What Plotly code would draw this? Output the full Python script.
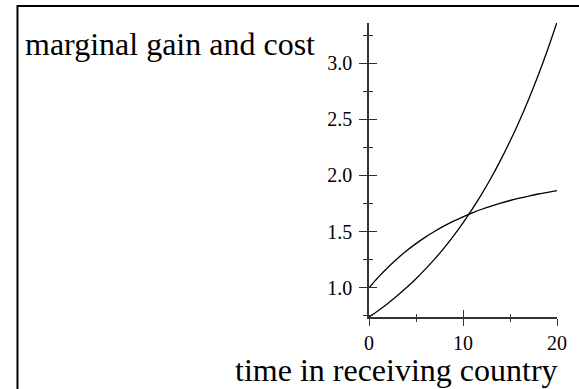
import plotly.graph_objects as go

# Data
t_values = [0, 1, 2, 3, 4, 5, 6, 7, 8, 9, 10, 11, 12, 13, 14, 15, 16, 17, 18, 19, 20]
marginal_gain = [1.000, 1.095, 1.181, 1.259, 1.330, 1.393, 1.451, 1.503, 1.551, 1.593, 1.632,
                 1.667, 1.699, 1.727, 1.753, 1.777, 1.798, 1.817, 1.835, 1.850, 1.865]
marginal_cost = [0.740, 0.798, 0.861, 0.929, 1.002, 1.081, 1.166, 1.257, 1.356, 1.463, 1.578,
                 1.702, 1.836, 1.980, 2.136, 2.304, 2.485, 2.681, 2.892, 3.119, 3.364]

x_ticks = [0, 10, 20]
y_ticks = [1.0, 1.5, 2.0, 2.5, 3.0]
y_tick_labels = ["1.0", "1.5", "2.0", "2.5", "3.0"]

W, H = 579, 389
L, R, T, B = 369, 18, 23, 72
PW, PH = W - L - R, H - T - B
XR = [0, 20]
YR = [0.74, 3.357]


def px(xpix):
    return (xpix - L) / PW


def py(ypix):
    return (H - B - ypix) / PH


FONT = "Liberation Serif, Times New Roman, serif"
AX = "#333333"

fig = go.Figure()
fig.add_trace(go.Scatter(x=t_values, y=marginal_gain, mode="lines", line=dict(color="black", width=1.3, shape="spline"), showlegend=False, hoverinfo="skip"))
fig.add_trace(go.Scatter(x=t_values, y=marginal_cost, mode="lines", line=dict(color="black", width=1.3, shape="spline"), showlegend=False, hoverinfo="skip"))
fig.add_trace(go.Scatter(x=[None], y=[None], xaxis="x2", yaxis="y2", showlegend=False, hoverinfo="skip"))

common = dict(showgrid=False, zeroline=False, showline=True, linecolor=AX, linewidth=1.5, tickcolor=AX, tickwidth=1.3)

fig.update_layout(
    width=W, height=H,
    margin=dict(l=L, r=R, t=T, b=B),
    paper_bgcolor="white", plot_bgcolor="white",
    font=dict(family=FONT, color="black"),
    xaxis=dict(range=XR, tickvals=x_ticks, ticktext=[str(v) for v in x_ticks], ticks="outside", ticklen=7,
               minor=dict(ticks="outside", ticklen=3.5, dtick=5, tick0=0, tickcolor=AX, tickwidth=1.3, showgrid=False),
               tickfont=dict(size=20, family=FONT, color="black"), **common),
    yaxis=dict(range=YR, tickvals=y_ticks, ticktext=y_tick_labels, ticks="outside", ticklen=8,
               minor=dict(ticks="outside", ticklen=4, dtick=0.25, tick0=0, tickcolor=AX, tickwidth=1.3, showgrid=False),
               tickfont=dict(size=20, family=FONT, color="black"), ticklabelstandoff=3, **common),
    xaxis2=dict(range=XR, overlaying="x", anchor="y2", side="bottom", tickvals=x_ticks, ticks="inside", ticklen=7,
                showticklabels=False,
                minor=dict(ticks="inside", ticklen=3.5, dtick=5, tick0=0, tickcolor=AX, tickwidth=1.3, showgrid=False),
                **common),
    yaxis2=dict(range=YR, overlaying="y", anchor="x2", side="left", tickvals=y_ticks, ticks="inside", ticklen=8,
                showticklabels=False,
                minor=dict(ticks="inside", ticklen=4, dtick=0.25, tick0=0, tickcolor=AX, tickwidth=1.3, showgrid=False),
                **common),
    shapes=[dict(type="rect", xref="paper", yref="paper", x0=px(10), x1=px(W + 20), y0=py(6), y1=py(H + 20),
                 line=dict(color="black", width=2), fillcolor="rgba(0,0,0,0)", layer="above")],
    annotations=[
        dict(text="marginal gain and cost", xref="paper", yref="paper", x=px(16), y=py(44), xanchor="left", yanchor="middle",
             showarrow=False, font=dict(size=32, family=FONT, color="black")),
        dict(text="time in receiving country", xref="paper", yref="paper", x=px(397), y=py(370), xanchor="center", yanchor="middle",
             showarrow=False, font=dict(size=32, family=FONT, color="black")),
    ],
)

fig.write_html("out.html", config={"displayModeBar": False},
               post_script="document.body.style.margin='0px';document.body.style.overflow='hidden';")
